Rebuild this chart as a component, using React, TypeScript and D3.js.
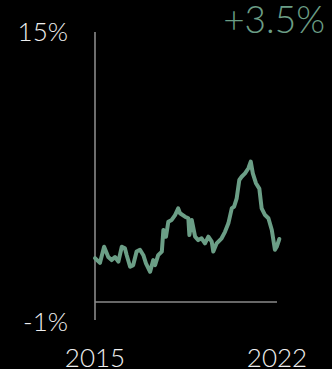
import React from "react";
import * as d3 from "d3";

const years: number[] = [
  2015.0, 2015.19, 2015.35, 2015.51, 2015.64, 2015.77, 2015.9, 2016.03, 2016.15, 2016.22,
  2016.35, 2016.47, 2016.6, 2016.73, 2016.86, 2016.96, 2017.12, 2017.24, 2017.31, 2017.43,
  2017.57, 2017.63, 2017.73, 2017.82, 2017.95, 2018.08, 2018.2, 2018.27, 2018.46, 2018.59,
  2018.63, 2018.72, 2018.85, 2018.97, 2019.1, 2019.23, 2019.36, 2019.49, 2019.55, 2019.68,
  2019.87, 2020.0, 2020.13, 2020.26, 2020.35, 2020.45, 2020.55, 2020.64, 2020.77, 2020.9,
  2020.99, 2021.07, 2021.19, 2021.32, 2021.41, 2021.54, 2021.67, 2021.8, 2021.92, 2021.99,
  2022.09,
];
const values: number[] = [
  2.44, 2.17, 3.07, 2.5, 2.33, 2.5, 2.24, 3.07, 2.98, 2.6,
  1.96, 2.05, 2.8, 2.9, 2.6, 2.15, 1.68, 2.33, 2.05, 2.6,
  2.8, 4.0, 3.63, 4.46, 4.56, 4.83, 5.2, 4.93, 4.74, 4.65,
  3.72, 4.56, 3.63, 3.44, 3.54, 3.26, 3.63, 3.35, 2.8, 3.26,
  3.54, 3.9, 4.37, 5.2, 5.3, 5.76, 6.78, 6.96, 7.15, 7.43,
  7.8, 7.15, 6.6, 6.3, 5.2, 4.83, 4.65, 4.0, 2.9, 3.07,
  3.5,
];
const yTickLabels: string[] = ["15%", "-1%"];
const yTickValues: number[] = [15, -1];
const xTickLabels: string[] = ["2015", "2022"];
const xTickValues: number[] = [2015, 2022];
const changeLabel = "+3.5%";

const W = 332;
const H = 369;
const GREEN = "#6b9e86";
const FONT = "Lato, 'Noto Sans', sans-serif";

export default function App() {
  const x = d3.scaleLinear().domain([2015, 2022]).range([95, 277]);
  const y = d3.scaleLinear().domain([-1, 15]).range([320, 32]);
  const data = years.map((yr, i) => ({ yr, v: values[i] }));
  const line = d3
    .line<{ yr: number; v: number }>()
    .x((d) => x(d.yr))
    .y((d) => y(d.v))
    .curve(d3.curveLinear);

  return (
    <svg
      width={W}
      height={H}
      style={{ position: "fixed", left: 0, top: 0, background: "#000", display: "block" }}
    >
      <rect x={0} y={0} width={W} height={H} fill="#000" />
      <line x1={x(2015)} x2={x(2015)} y1={y(15)} y2={y(-1)} stroke="#8a8a8a" strokeWidth={1.6} />
      <line x1={x(2015)} x2={x(2022)} y1={y(0)} y2={y(0)} stroke="#8a8a8a" strokeWidth={1.6} />
      {yTickValues.map((v, i) => (
        <text
          key={v}
          x={68}
          y={i === 0 ? 41 : 330.5}
          textAnchor="end"
          fill="#eeeeee"
          fontFamily={FONT}
          fontSize={26}
          fontWeight={300}
        >
          {yTickLabels[i]}
        </text>
      ))}
      {xTickValues.map((v, i) => (
        <text
          key={v}
          x={x(v)}
          y={367}
          textAnchor="middle"
          fill="#eeeeee"
          fontFamily={FONT}
          fontSize={26}
          fontWeight={300}
        >
          {xTickLabels[i]}
        </text>
      ))}
      <text
        x={325}
        y={32.5}
        textAnchor="end"
        fill={GREEN}
        fontFamily={FONT}
        fontSize={37}
        fontWeight={300}
      >
        {changeLabel}
      </text>
      <path
        d={line(data) || ""}
        fill="none"
        stroke={GREEN}
        strokeWidth={4}
        strokeLinejoin="round"
        strokeLinecap="round"
      />
    </svg>
  );
}
